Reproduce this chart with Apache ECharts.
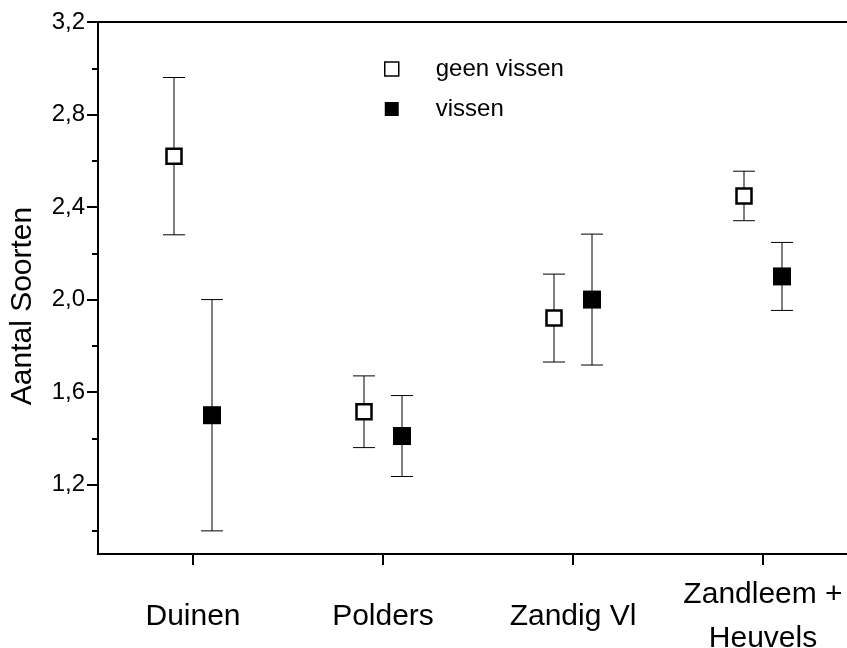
<!DOCTYPE html>
<html>
<head>
<meta charset="utf-8">
<script src="https://cdn.jsdelivr.net/npm/echarts@6/dist/echarts.min.js"></script>
<style>
  html, body { margin: 0; padding: 0; background: #fff; }
  #chart { width: 847px; height: 648px; }
</style>
</head>
<body>
<div id="chart"></div>
<script>
// Regions (x-axis categories)
const categories = ['Duinen', 'Polders', 'Zandig Vl', 'Zandleem +\nHeuvels'];

// Mean number of species and half-width of the error bar, per region
const geenVissenMean = [2.62, 1.515, 1.92, 2.448];
const geenVissenErr  = [0.34, 0.155, 0.19, 0.107];
const vissenMean     = [1.50, 1.41, 2.00, 2.10];
const vissenErr      = [0.50, 0.175, 0.283, 0.147];

// Y-axis tick values
const yMajorTicks = [1.2, 1.6, 2.0, 2.4, 2.8, 3.2];
const yMinorTicks = [1.0, 1.4, 1.8, 2.2, 2.6, 3.0];
const xTicks = [1, 2, 3, 4];

const FONT = 'Liberation Sans, Arial, Helvetica, sans-serif';
const SHIFT = 0.1; // horizontal offset of each group around its category

function points(means, errs, dir) {
  return means.map((m, i) => [i + 1 + dir * SHIFT, m, errs[i]]);
}
const geenData = points(geenVissenMean, geenVissenErr, -1);
const vissenData = points(vissenMean, vissenErr, 1);

function errorBar(params, api) {
  const x = api.value(0), m = api.value(1), e = api.value(2);
  const top = api.coord([x, m + e]);
  const bot = api.coord([x, m - e]);
  const half = 11;
  const style = { stroke: '#000', lineWidth: 1 };
  return {
    type: 'group',
    children: [
      { type: 'line', shape: { x1: top[0], y1: top[1], x2: bot[0], y2: bot[1] }, style },
      { type: 'line', shape: { x1: top[0] - half, y1: top[1], x2: top[0] + half, y2: top[1] }, style },
      { type: 'line', shape: { x1: bot[0] - half, y1: bot[1], x2: bot[0] + half, y2: bot[1] }, style }
    ]
  };
}

const chart = echarts.init(document.getElementById('chart'), null, { renderer: 'canvas' });
chart.setOption({
  backgroundColor: '#fff',
  animation: false,
  textStyle: { fontFamily: FONT, color: '#000' },
  grid: {
    left: 98, top: 22, width: 760, height: 532,
    outerBoundsMode: 'none', containLabel: false,
    show: true, borderColor: '#000', borderWidth: 2, backgroundColor: 'transparent'
  },
  legend: {
    orient: 'vertical',
    left: 384, top: 57,
    padding: 0,
    itemWidth: 14, itemHeight: 14,
    itemGap: 16,
    selectedMode: false,
    textStyle: { fontFamily: FONT, fontSize: 24, color: '#000', lineHeight: 24, padding: [0, 0, 0, 32] },
    data: [
      { name: 'geen vissen', icon: 'rect', itemStyle: { color: '#fff', borderColor: '#000', borderWidth: 1.5 } },
      { name: 'vissen', icon: 'rect', itemStyle: { color: '#000', borderWidth: 0 } }
    ]
  },
  xAxis: {
    type: 'value', min: 0.5, max: 4.5,
    splitLine: { show: false },
    axisLine: { show: true, onZero: false, lineStyle: { color: '#000', width: 2 } },
    axisTick: { show: true, inside: false, length: 11, customValues: xTicks, lineStyle: { color: '#000', width: 2 } },
    axisLabel: {
      show: true, customValues: xTicks, margin: 63,
      fontFamily: FONT, fontSize: 30, color: '#000', lineHeight: 44,
      verticalAlign: 'middle', align: 'center',
      formatter: v => categories[Math.round(v) - 1] || ''
    }
  },
  yAxis: [
    {
      type: 'value', min: 0.9, max: 3.2,
      position: 'left',
      name: 'Aantal Soorten', nameLocation: 'middle', nameGap: 60, nameRotate: 90,
      nameTextStyle: { fontFamily: FONT, fontSize: 30, color: '#000', padding: [0, 36, 0, 0] },
      splitLine: { show: false },
      axisLine: { show: true, lineStyle: { color: '#000', width: 2 } },
      axisTick: { show: true, inside: false, length: 11, customValues: yMajorTicks, lineStyle: { color: '#000', width: 2 } },
      axisLabel: {
        show: true, customValues: yMajorTicks, margin: 13,
        fontFamily: FONT, fontSize: 24, color: '#000',
        formatter: v => v.toFixed(1).replace('.', ',')
      }
    },
    {
      type: 'value', min: 0.9, max: 3.2,
      position: 'left',
      splitLine: { show: false },
      axisLine: { show: false },
      axisTick: { show: true, inside: false, length: 6, customValues: yMinorTicks, lineStyle: { color: '#000', width: 2 } },
      axisLabel: { show: false }
    }
  ],
  series: [
    {
      type: 'custom', name: 'err-geen', renderItem: errorBar,
      data: geenData, encode: { x: 0, y: 1 }, z: 1, silent: true
    },
    {
      type: 'custom', name: 'err-vissen', renderItem: errorBar,
      data: vissenData, encode: { x: 0, y: 1 }, z: 1, silent: true
    },
    {
      type: 'scatter', name: 'geen vissen', symbol: 'rect', symbolSize: 15,
      itemStyle: { color: '#fff', borderColor: '#000', borderWidth: 2.5, opacity: 1 },
      data: geenData.map(d => [d[0], d[1]]), z: 3
    },
    {
      type: 'scatter', name: 'vissen', symbol: 'rect', symbolSize: 18,
      itemStyle: { color: '#000', opacity: 1 },
      data: vissenData.map(d => [d[0], d[1]]), z: 3
    }
  ]
});
</script>
</body>
</html>
